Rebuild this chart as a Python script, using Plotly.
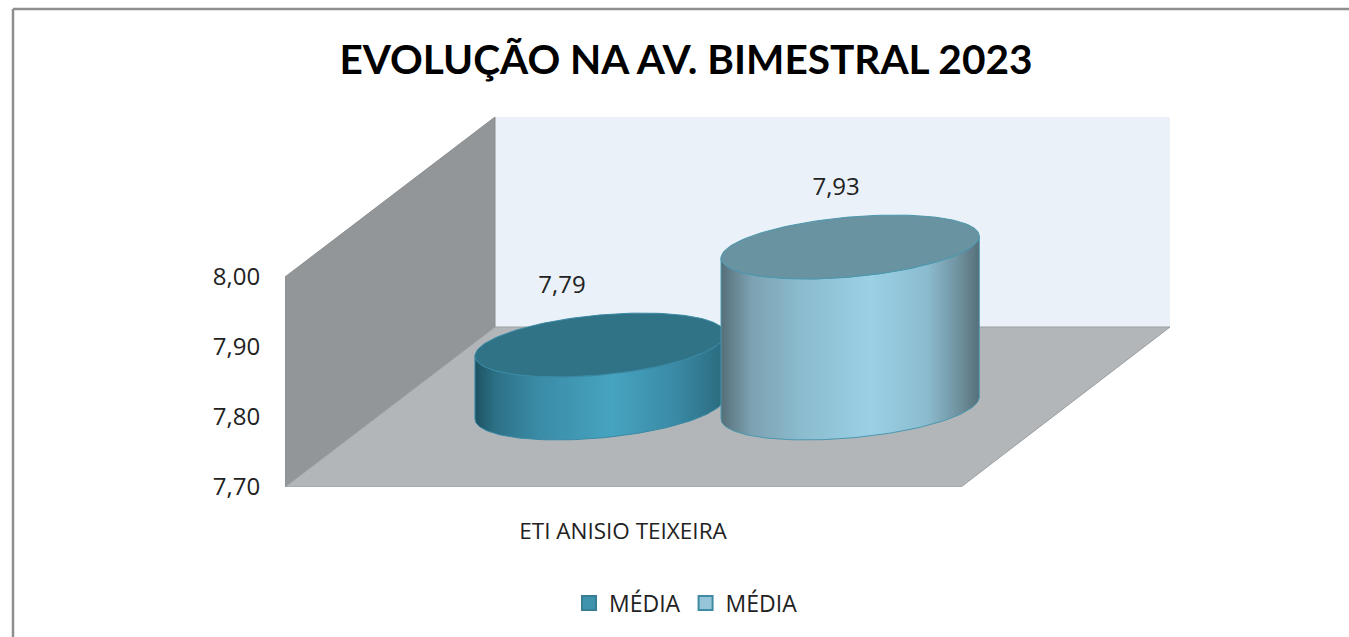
import numpy as np
import plotly.graph_objects as go

# ---- data ----
title = "EVOLUÇÃO NA AV. BIMESTRAL 2023"
category = "ETI ANISIO TEIXEIRA"
series_names = ["MÉDIA", "MÉDIA"]
series_values = [7.79, 7.93]
y_ticks = [7.70, 7.80, 7.90, 8.00]

# ---- 3D look (oblique projection, in axis units) ----
W, H = 1349, 637
L, R, T, B = 285, 1170, 117, 487
Y0 = 7.70
PX_Y = 1 / 700            # value per pixel
PX_X = 1 / 676            # category width per pixel
y_top = Y0 + (B - T) * PX_Y
x_right = (R - L) * PX_X
depth_x = 210 * PX_X
depth_y = 160 * PX_Y
front_x = 1.0
y_8 = 8.0

centers = [0.466, 0.836]
half_w = [0.185, 0.191]
base = 79 * PX_Y
ell_b = 30 * PX_Y
ell_s = 11 * PX_Y
label_dx = [-38 * PX_X, -14 * PX_X]
label_dy = 58 * PX_Y

side_scales = [
    [[0, "#1d5262"], [0.08, "#2c7085"], [0.25, "#3a8ba6"], [0.55, "#46a4c0"], [0.8, "#3a8aa6"], [1, "#2a6a7d"]],
    [[0, "#566f79"], [0.12, "#7da2b2"], [0.3, "#8abacd"], [0.58, "#9bd1e5"], [0.8, "#8bbbce"], [0.92, "#6f929f"], [1, "#566f79"]],
]
top_colors = ["#307386", "#6a93a2"]
edge_colors = ["#3a8aa5", "#4b97ae"]
legend_fill = ["#3f93ad", "#96c4d8"]
legend_edge = ["#357e96", "#3f8ba3"]


def poly(xs, ys, color, edge=None):
    return go.Scatter(x=xs, y=ys, mode="lines", fill="toself", fillcolor=color,
                      line=dict(width=1 if edge else 0, color=edge or color),
                      showlegend=False, hoverinfo="skip")


fig = go.Figure()
# back wall, side wall, floor
fig.add_trace(poly([depth_x, x_right, x_right, depth_x, depth_x],
                   [Y0 + depth_y, Y0 + depth_y, y_top, y_top, Y0 + depth_y], "#eaf1f8"))
fig.add_trace(poly([0, depth_x, depth_x, 0, 0],
                   [y_8, y_top, Y0 + depth_y, Y0, y_8], "#929698", "#8a8e90"))
fig.add_trace(poly([0, front_x, x_right, depth_x, 0],
                   [Y0, Y0, Y0 + depth_y, Y0 + depth_y, Y0], "#b2b6b9", "#9a9ea1"))

# cylinders
for i, v in enumerate(series_values):
    c, a = centers[i], half_w[i]
    bottom = Y0 + base
    top = v + base
    lo = np.linspace(np.pi, 2 * np.pi, 90)
    hi = lo[::-1]
    xs = np.r_[c + a * np.cos(lo), c + a * np.cos(hi), c + a * np.cos(lo[0])]
    ys = np.r_[bottom + ell_s * np.cos(lo) + ell_b * np.sin(lo),
               top + ell_s * np.cos(hi) + ell_b * np.sin(hi),
               bottom + ell_s * np.cos(lo[0]) + ell_b * np.sin(lo[0])]
    fig.add_trace(go.Scatter(
        x=xs, y=ys, mode="lines", fill="toself",
        fillgradient=dict(type="horizontal", colorscale=side_scales[i]),
        line=dict(width=1, color=edge_colors[i]), showlegend=False, hoverinfo="skip"))
    t = np.linspace(0, 2 * np.pi, 180)
    fig.add_trace(go.Scatter(
        x=c + a * np.cos(t), y=top + ell_s * np.cos(t) + ell_b * np.sin(t),
        mode="lines", fill="toself", fillcolor=top_colors[i],
        line=dict(width=1, color=edge_colors[i]), showlegend=False, hoverinfo="skip"))

# data labels
fig.add_trace(go.Scatter(
    x=[c + d for c, d in zip(centers, label_dx)],
    y=[v + base + label_dy for v in series_values],
    text=[f"{v:.2f}".replace(".", ",") for v in series_values],
    mode="text", textposition="middle center",
    textfont=dict(family="Open Sans", size=24, color="#222222"),
    showlegend=False, hoverinfo="skip"))

# legend entries
for i, name in enumerate(series_names):
    fig.add_trace(go.Scatter(
        x=[None], y=[None], mode="markers", name=name,
        marker=dict(symbol="square", size=14, color=legend_fill[i],
                    line=dict(width=2, color=legend_edge[i]))))


def px(x):
    return (x - L) / (R - L)


def py(y):
    return (B - y) / (B - T)


fig.update_layout(
    width=W, height=H, autosize=False,
    margin=dict(l=L, r=W - R, t=T, b=H - B, pad=0),
    paper_bgcolor="white", plot_bgcolor="rgba(0,0,0,0)",
    separators=",.",
    showlegend=True,
    title=dict(text=f"<b>{title}</b>", x=686 / W, xanchor="center", xref="container",
               y=1 - 60 / H, yanchor="middle", yref="container",
               font=dict(family="Lato", size=40.6, color="#000000")),
    xaxis=dict(range=[0, x_right], tickvals=[0.5], ticktext=[category], showgrid=False, zeroline=False,
               showline=False, ticks="outside", ticklen=24, tickcolor="rgba(0,0,0,0)",
               tickfont=dict(family="Open Sans", size=22.5, color="#222222"), fixedrange=True),
    yaxis=dict(range=[Y0, y_top], tickvals=y_ticks, tickformat=".2f", showgrid=False, zeroline=False,
               showline=False, ticks="outside", ticklen=19, tickcolor="rgba(0,0,0,0)",
               tickfont=dict(family="Open Sans", size=24, color="#222222"), fixedrange=True),
    legend=dict(orientation="h", x=px(686), xanchor="center", y=py(603), yanchor="middle",
                font=dict(family="Open Sans", size=23, color="#222222"),
                bgcolor="rgba(0,0,0,0)", itemwidth=30, tracegroupgap=0),
    shapes=[
        dict(type="line", xref="paper", yref="paper", x0=px(13), x1=px(1349), y0=py(9), y1=py(9),
             line=dict(color="#8f8f8f", width=2.5)),
        dict(type="line", xref="paper", yref="paper", x0=px(13), x1=px(13), y0=py(9), y1=py(637),
             line=dict(color="#8f8f8f", width=2.5)),
    ],
)

fig.write_html("out.html", config=dict(displayModeBar=False),
               post_script="document.body.style.margin='0';document.body.style.overflow='hidden';")
